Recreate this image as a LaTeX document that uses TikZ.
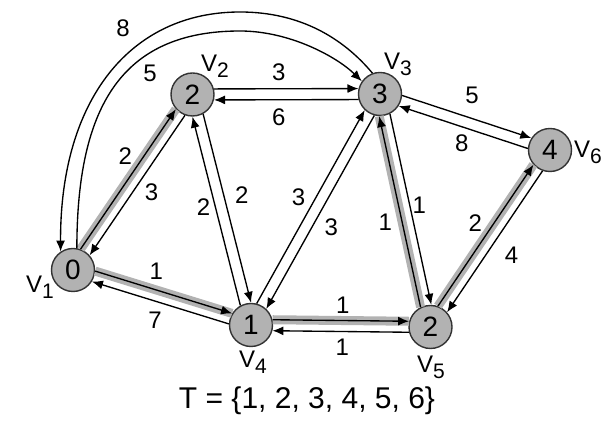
\documentclass[tikz,border=0pt]{standalone}
\usepackage{fontspec}
\setmainfont{Liberation Sans}
\usetikzlibrary{arrows.meta,calc}

\tikzset{
  vertex/.style={circle,draw=black!80,fill=black!30,line width=1.4pt,
    minimum size=43pt,inner sep=0pt,font=\fontsize{28}{28}\selectfont},
  link/.style={-{Latex[length=11pt,width=9pt]},line width=1.35pt},
  pair/.style={link,shorten <=21.5pt,shorten >=21.5pt},
  tree/.style={line width=9pt,draw=black!30,shorten <=21.5pt,shorten >=21.5pt},
  weight/.style={font=\fontsize{24}{24}\selectfont,inner sep=0pt},
  vname/.style={font=\fontsize{24}{24}\selectfont,inner sep=0pt}
}
\newcommand{\vsub}[1]{V\raisebox{-6pt}{\fontsize{21}{21}\selectfont #1}}

\begin{document}
\begin{tikzpicture}[x=1pt,y=1pt]
\useasboundingbox (0,0) rectangle (602,422);

% vertices
\node[vertex] (v1) at (73,152) {0};
\node[vertex] (v2) at (192.5,327.5) {2};
\node[vertex] (v3) at (380,328) {3};
\node[vertex] (v6) at (550,272) {4};
\node[vertex] (v4) at (251,97) {1};
\node[vertex] (v5) at (430.5,95) {2};

\node[vname] (n1) at (40,135) {\vsub{1}};
\node[vname] (n2) at (215,356) {\vsub{2}};
\node[vname] (n3) at (398,358) {\vsub{3}};
\node[vname] (n6) at (588,270) {\vsub{6}};
\node[vname] (n4) at (253,60) {\vsub{4}};
\node[vname] (n5) at (431,55) {\vsub{5}};

% shortest path tree
\draw[tree] ($(v1)!5.5pt!90:(v2)$) -- ($(v2)!5.5pt!-90:(v1)$);
\draw[tree] ($(v1)!5.5pt!90:(v4)$) -- ($(v4)!5.5pt!-90:(v1)$);
\draw[tree] ($(v4)!5.5pt!90:(v5)$) -- ($(v5)!5.5pt!-90:(v4)$);
\draw[tree] ($(v5)!5.5pt!90:(v3)$) -- ($(v3)!5.5pt!-90:(v5)$);
\draw[tree] ($(v5)!5.5pt!90:(v6)$) -- ($(v6)!5.5pt!-90:(v5)$);

% edges
\draw[pair] ($(v1)!5.5pt!90:(v2)$) -- ($(v2)!5.5pt!-90:(v1)$);
\draw[pair] ($(v2)!5.5pt!90:(v1)$) -- ($(v1)!5.5pt!-90:(v2)$);
\draw[pair] ($(v1)!5.5pt!90:(v4)$) -- ($(v4)!5.5pt!-90:(v1)$);
\draw[pair] ($(v4)!5.5pt!90:(v1)$) -- ($(v1)!5.5pt!-90:(v4)$);
\draw[pair] ($(v2)!5.5pt!90:(v3)$) -- ($(v3)!5.5pt!-90:(v2)$);
\draw[pair] ($(v3)!5.5pt!90:(v2)$) -- ($(v2)!5.5pt!-90:(v3)$);
\draw[pair] ($(v2)!5.5pt!90:(v4)$) -- ($(v4)!5.5pt!-90:(v2)$);
\draw[pair] ($(v4)!5.5pt!90:(v2)$) -- ($(v2)!5.5pt!-90:(v4)$);
\draw[pair] ($(v4)!5.5pt!90:(v3)$) -- ($(v3)!5.5pt!-90:(v4)$);
\draw[pair] ($(v3)!5.5pt!90:(v4)$) -- ($(v4)!5.5pt!-90:(v3)$);
\draw[pair] ($(v4)!5.5pt!90:(v5)$) -- ($(v5)!5.5pt!-90:(v4)$);
\draw[pair] ($(v5)!5.5pt!90:(v4)$) -- ($(v4)!5.5pt!-90:(v5)$);
\draw[pair] ($(v5)!5.5pt!90:(v3)$) -- ($(v3)!5.5pt!-90:(v5)$);
\draw[pair] ($(v3)!5.5pt!90:(v5)$) -- ($(v5)!5.5pt!-90:(v3)$);
\draw[pair] ($(v3)!5.5pt!90:(v6)$) -- ($(v6)!5.5pt!-90:(v3)$);
\draw[pair] ($(v6)!5.5pt!90:(v3)$) -- ($(v3)!5.5pt!-90:(v6)$);
\draw[pair] ($(v5)!5.5pt!90:(v6)$) -- ($(v6)!5.5pt!-90:(v5)$);
\draw[pair] ($(v6)!5.5pt!90:(v5)$) -- ($(v5)!5.5pt!-90:(v6)$);

% long way round
\draw[link] (v3.110) .. controls (343,384) and (300,410) .. (240,410)
  .. controls (130,410) and (60,322) .. (v1.124);
\draw[link] (v1.80) .. controls (77,313) and (120,391) .. (240,391)
  .. controls (290,391) and (337,365) .. (v3.145);

% weights
\node[weight] (w31) at (123,394) {8};
\node[weight] (w13) at (150,349) {5};
\node[weight] (w12) at ($(v1)!.58!(v2)!20.6pt!90:(v2)$) {2};
\node[weight] (w21) at ($(v2)!.49!(v1)!21.4pt!90:(v1)$) {3};
\node[weight] (w14) at ($(v1)!.43!(v4)!23pt!90:(v4)$) {1};
\node[weight] (w41) at ($(v4)!.50!(v1)!23.5pt!90:(v1)$) {7};
\node[weight] (w23) at ($(v2)!.46!(v3)!22.5pt!90:(v3)$) {3};
\node[weight] (w32) at ($(v3)!.54!(v2)!22.5pt!90:(v2)$) {6};
\node[weight] (w24) at ($(v2)!.46!(v4)!23pt!90:(v4)$) {2};
\node[weight] (w42) at ($(v4)!.53!(v2)!17pt!90:(v2)$) {2};
\node[weight] (w43) at ($(v4)!.51!(v3)!21pt!90:(v3)$) {3};
\node[weight] (w34) at ($(v3)!.53!(v4)!22.5pt!90:(v4)$) {3};
\node[weight] (w45) at ($(v4)!.51!(v5)!21pt!90:(v5)$) {1};
\node[weight] (w54) at ($(v5)!.49!(v4)!21pt!90:(v4)$) {1};
\node[weight] (w53) at ($(v5)!.47!(v3)!22pt!90:(v3)$) {1};
\node[weight] (w35) at ($(v3)!.49!(v5)!15pt!90:(v5)$) {1};
\node[weight] (w36) at ($(v3)!.49!(v6)!27.7pt!90:(v6)$) {5};
\node[weight] (w63) at ($(v6)!.48!(v3)!21pt!90:(v3)$) {8};
\node[weight] (w56) at ($(v5)!.52!(v6)!21pt!90:(v6)$) {2};
\node[weight] (w65) at ($(v6)!.51!(v5)!27pt!90:(v5)$) {4};

\node[font=\fontsize{30}{30}\selectfont] (set) at (307,21) {T = \{1, 2, 3, 4, 5, 6\}};

\end{tikzpicture}
\end{document}
